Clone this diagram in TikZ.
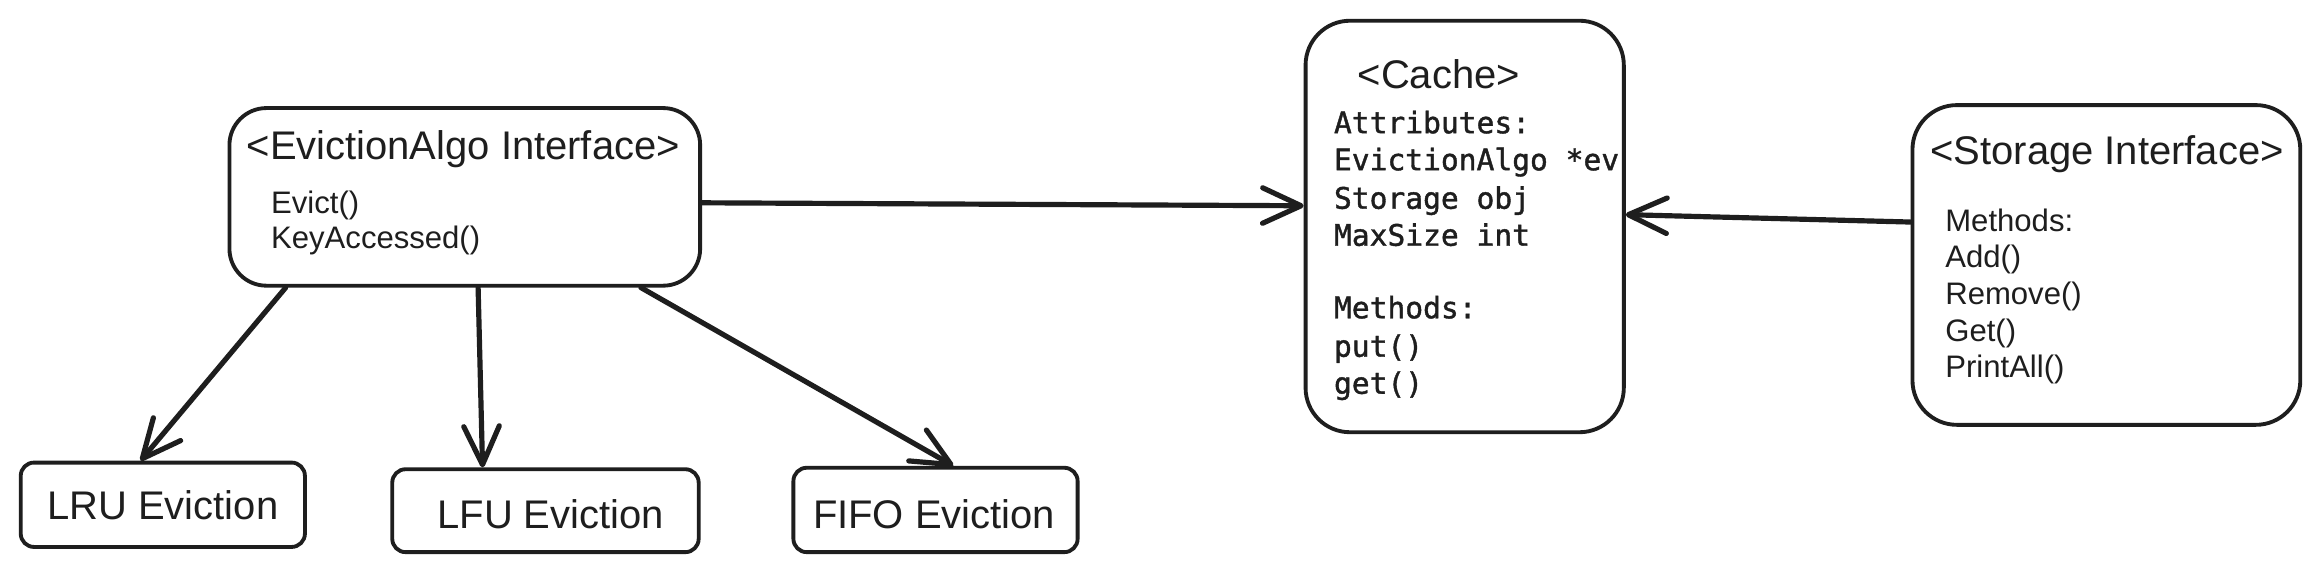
\documentclass[tikz,border=0pt]{standalone}
\usepackage{fontspec}
\setmainfont{Liberation Sans}
\newfontfamily\monof[FakeBold=1.3]{DejaVu Sans Mono}
\usetikzlibrary{arrows.meta}
\definecolor{ink}{HTML}{1E1E1E}
\begin{document}
\begin{tikzpicture}[x=1pt,y=-1pt,
  box/.style={draw=ink, line width=2.6pt, rounded corners=#1, inner sep=0pt},
  box/.default=9pt,
  ttl/.style={anchor=base, inner sep=0pt, text=ink, font=\fontsize{27}{31}\selectfont},
  mth/.style={anchor=base west, inner sep=0pt, text=ink, font=\fontsize{21}{25}\selectfont},
  mono/.style={anchor=base west, inner sep=0pt, text=ink, font=\monof\fontsize{20}{25}\selectfont},
  arr/.style={draw=ink, line width=3.5pt, line cap=round,
    -{Straight Barb[length=26pt,width=24pt,round]}}
]
\useasboundingbox[fill=white] (0,0) rectangle (1568,386);

% boxes
\node[box=25pt, minimum width=318pt, minimum height=120pt] (ev) at (314,133) {};
\node[box=30pt, minimum width=215pt, minimum height=278pt] (cache) at (989.5,153) {};
\node[box=30pt, minimum width=262pt, minimum height=216pt] (st) at (1423,179) {};
\node[box, minimum width=192pt, minimum height=57pt] (lru) at (110,341) {};
\node[box, minimum width=207pt, minimum height=56pt] (lfu) at (368.5,345) {};
\node[box, minimum width=192pt, minimum height=57pt] (fifo) at (632,344.5) {};

% EvictionAlgo texts
\node[ttl] (evt) at (313,108) {<EvictionAlgo Interface>};
\node[mth] (ev1) at (183,144.5) {Evict()};
\node[mth] (ev2) at (183,168) {KeyAccessed()};

% Cache texts
\node[ttl] (cat) at (972,60) {<Cache>};
\node[mono] (c1) at (901,90) {Attributes:};
\node[mono] (c2) at (901,115) {EvictionAlgo *ev};
\node[mono] (c3) at (901,141) {Storage obj};
\node[mono] (c4) at (901,166) {MaxSize int};
\node[mono] (c5) at (901,215) {Methods:};
\node[mono] (c6) at (901,241) {put()};
\node[mono] (c7) at (901,266) {get()};

% Storage texts
\node[ttl] (stt) at (1423.5,111) {<Storage Interface>};
\node[mth] (s1) at (1314,156.5) {Methods:};
\node[mth] (s2) at (1314,181) {Add()};
\node[mth] (s3) at (1314,206) {Remove()};
\node[mth] (s4) at (1314,230.5) {Get()};
\node[mth] (s5) at (1314,255) {PrintAll()};

% bottom texts
\node[ttl] (lrut) at (110,351) {LRU Eviction};
\node[ttl] (lfut) at (372,357) {LFU Eviction};
\node[ttl] (fifot) at (631,357) {FIFO Eviction};

% connectors
\draw[arr] ([yshift=-4pt]ev.east) -- ([yshift=14pt]cache.west);
\draw[arr] ([yshift=29pt]st.west) -- ([yshift=8pt]cache.east);
\draw[arr] ([xshift=-121pt]ev.south) -- ([xshift=-15pt]lru.north);
\draw[arr] ([xshift=9pt]ev.south) -- ([xshift=-42.5pt]lfu.north);
\draw[arr] ([xshift=119pt]ev.south) -- ([xshift=12pt]fifo.north);
\end{tikzpicture}
\end{document}
